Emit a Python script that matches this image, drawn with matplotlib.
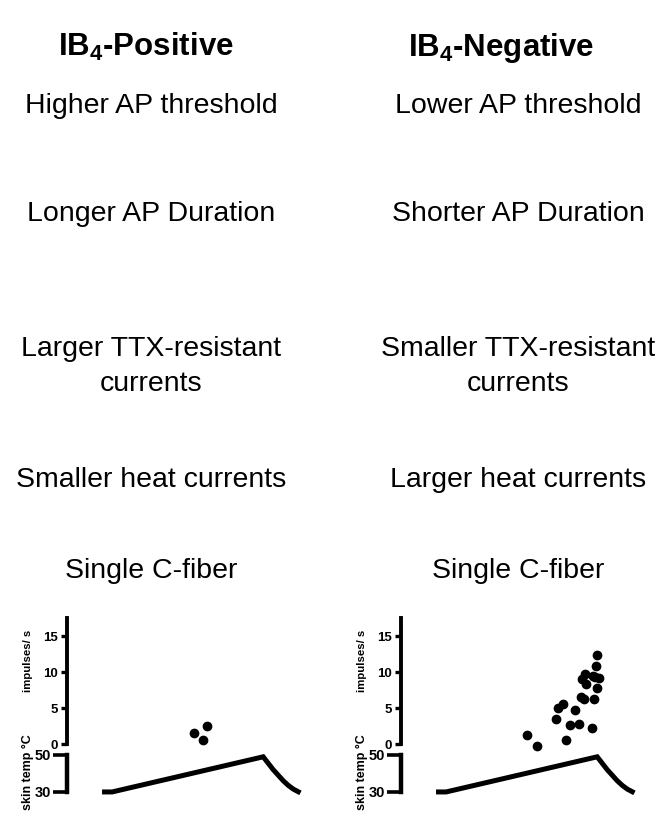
import matplotlib
matplotlib.use("Agg")
import matplotlib.pyplot as plt

plt.rcParams['font.family'] = ['Liberation Sans', 'DejaVu Sans']
plt.rcParams['mathtext.fontset'] = 'custom'
plt.rcParams['mathtext.rm'] = 'Liberation Sans'
plt.rcParams['mathtext.bf'] = 'Liberation Sans:bold'

W, H = 666, 815

# column text
titles = [r'$\mathbf{IB_4}$-Positive', r'$\mathbf{IB_4}$-Negative']
left_rows = ["Higher AP threshold", "Longer AP Duration", "Larger TTX-resistant",
             "currents", "Smaller heat currents", "Single C-fiber"]
right_rows = ["Lower AP threshold", "Shorter AP Duration", "Smaller TTX-resistant",
              "currents", "Larger heat currents", "Single C-fiber"]

# heat ramp stimulus (time s, skin temp C)
stim_t = [-1.0, 0.0, 15.0, 15.5, 16.0, 16.5, 17.0, 17.5, 18.0, 18.7]
stim_temp = [30, 30, 49, 45.5, 42, 39, 36, 33.5, 31.5, 29.5]

# single fiber discharge (time s, impulses/s)
pos_t = [8.1, 9.4, 9.0]
pos_rate = [1.5, 2.5, 0.6]
neg_t = [8.0, 9.0, 10.9, 11.1, 11.6, 12.8, 12.3, 11.9, 13.2, 13.4, 13.7, 13.5,
         13.8, 13.9, 14.5, 14.7, 14.8, 14.9, 15.0, 15.0, 15.2, 14.6]
neg_rate = [1.2, -0.3, 3.5, 5.0, 5.5, 4.7, 2.7, 0.5, 2.8, 6.5, 6.2, 9.1,
            9.7, 8.3, 2.2, 6.3, 9.3, 10.8, 12.4, 7.8, 9.2, 9.4]

fig = plt.figure(figsize=(W / 100, H / 100), dpi=100)


def fx(px):
    return px / W


def fy(py):
    return 1 - py / H


# text blocks
col_x = [151, 518]
title_x = [146, 501]
base_y = [113, 221, 356, 391, 487, 578]
for i, rows in enumerate([left_rows, right_rows]):
    fig.text(fx(title_x[i]), fy(56), titles[i], ha='center', va='baseline',
             fontsize=22.5, fontweight='bold')
    for txt, by in zip(rows, base_y):
        fig.text(fx(col_x[i]), fy(by), txt, ha='center', va='baseline', fontsize=20.5)

# panels
spine_x = [67, 401]
t_left, t_right = -4.48, 20.64
for i, (pt, pr) in enumerate([(pos_t, pos_rate), (neg_t, neg_rate)]):
    x0 = spine_x[i]
    # impulses axes: 0 at y=744, 7.2 px per unit
    ax = fig.add_axes([fx(x0), fy(751.2), fx(253), 133 / H])
    ax.set_facecolor('none')
    ax.scatter(pt, pr, s=36, color='black', clip_on=False, zorder=3)
    ax.set_xlim(t_left, t_right)
    ax.set_ylim(-1, 17.5)
    for s in ['top', 'right', 'bottom']:
        ax.spines[s].set_visible(False)
    ax.spines['left'].set_bounds(0, 17.5)
    ax.spines['left'].set_linewidth(2.8)
    ax.set_xticks([])
    ax.set_yticks([0, 5, 10, 15])
    ax.tick_params(axis='y', length=4.5, width=2.4, pad=2, labelsize=9.5)
    for lab in ax.get_yticklabels():
        lab.set_fontweight('bold')

    # skin temp axes: 30 at y=792, 1.85 px per C
    ax2 = fig.add_axes([fx(x0), fy(797.5), fx(253), 46.25 / H])
    ax2.set_facecolor('none')
    ax2.plot(stim_t, stim_temp, color='black', lw=3.6, solid_capstyle='butt',
             solid_joinstyle='miter', clip_on=False)
    ax2.set_xlim(t_left, t_right)
    ax2.set_ylim(27, 52)
    for s in ['top', 'right', 'bottom']:
        ax2.spines[s].set_visible(False)
    ax2.spines['left'].set_bounds(30, 50)
    ax2.spines['left'].set_linewidth(3.2)
    ax2.set_xticks([])
    ax2.set_yticks([30, 50])
    ax2.tick_params(axis='y', length=10, width=2.6, pad=1.5, labelsize=10.5)
    for lab in ax2.get_yticklabels():
        lab.set_fontweight('bold')

    fig.text(fx(x0 - 39), fy(661), "impulses/ s", rotation=90, ha='center',
             va='center', fontsize=8.2, fontweight='bold')
    fig.text(fx(x0 - 39), fy(772), "skin temp \u00b0C", rotation=90, ha='center',
             va='center', fontsize=9, fontweight='bold')

fig.savefig("out.png", dpi=100)
